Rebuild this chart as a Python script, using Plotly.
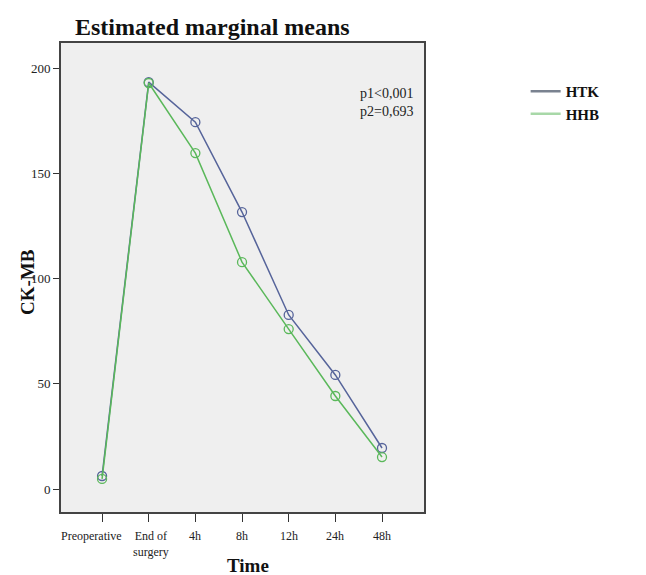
import plotly.graph_objects as go

categories = ["Preoperative", "End of<br>surgery", "4h", "8h", "12h", "24h", "48h"]
htk = [6.2, 193.3, 174.3, 131.6, 82.7, 54.2, 19.5]
hhb = [4.8, 192.9, 159.6, 107.8, 76.0, 44.2, 15.2]
y_ticks = [0, 50, 100, 150, 200]

HTK_C = "#56649a"
HHB_C = "#5ab85a"
SERIF = "Liberation Serif, Times New Roman, serif"

xs = list(range(len(categories)))
fig = go.Figure()
fig.add_trace(go.Scatter(x=xs, y=htk, mode="lines+markers", showlegend=False,
                         line=dict(color=HTK_C, width=1.5),
                         marker=dict(symbol="circle-open", size=9, color=HTK_C, line=dict(width=1.3))))
fig.add_trace(go.Scatter(x=xs, y=hhb, mode="lines+markers", showlegend=False,
                         line=dict(color=HHB_C, width=1.5),
                         marker=dict(symbol="circle-open", size=9, color=HHB_C, line=dict(width=1.3))))
fig.add_trace(go.Scatter(x=[None], y=[None], mode="lines", name="<b>HTK</b>",
                         line=dict(color="#7a8290", width=2.5)))
fig.add_trace(go.Scatter(x=[None], y=[None], mode="lines", name="<b>HHB</b>",
                         line=dict(color="#a8d8a8", width=2.5)))

fig.update_layout(
    width=646, height=575,
    margin=dict(l=61, r=222, t=43, b=63),
    paper_bgcolor="white", plot_bgcolor="#efefef",
    font=dict(family=SERIF, color="#222", size=13),
    title=dict(text="<b>Estimated marginal means</b>", x=75/646, xanchor="left",
               y=1-27/575, yanchor="middle", font=dict(size=24, family=SERIF, color="#111")),
    legend=dict(x=1.28, xanchor="left", y=1-(75-43)/469, yanchor="top",
                font=dict(size=15, family=SERIF, color="#111"),
                itemwidth=30, tracegroupgap=0, bgcolor="rgba(0,0,0,0)"),
    xaxis=dict(range=[-0.88, 6.9], tickvals=xs, showticklabels=False,
               automargin=False,
               showgrid=False, zeroline=False, showline=True, mirror=True,
               linecolor="#444", linewidth=2, ticks="outside", ticklen=8,
               tickcolor="#333"),
    yaxis=dict(range=[-10.9, 211.9], tickvals=y_ticks, automargin=False,
               showgrid=False, zeroline=False, showline=True, mirror=True,
               linecolor="#444", linewidth=2, ticks="outside", ticklen=6,
               tickcolor="#333", tickfont=dict(size=13, family=SERIF, color="#222")),
)
# category labels below the axis (first one offset left as in the original)
label_shift = [-11, 2, 0, 0, 0, 0, 0]
for xi, lab, sh in zip(xs, categories, label_shift):
    fig.add_annotation(text=lab, xref="x", yref="paper", x=xi, y=-(527-512)/469,
                       xanchor="center", yanchor="top", xshift=sh, showarrow=False,
                       align="center", font=dict(size=12, family=SERIF, color="#222"))
fig.add_annotation(text="<b>Time</b>", xref="paper", yref="paper",
                   x=(248-61)/363, y=-(565-512)/469, xanchor="center", yanchor="middle",
                   showarrow=False, font=dict(size=19, family=SERIF, color="#111"))
fig.add_annotation(text="<b>CK-MB</b>", xref="paper", yref="paper", textangle=-90,
                   x=-(61-27)/363, y=1-(282-43)/469, xanchor="center", yanchor="middle",
                   showarrow=False, font=dict(size=19, family=SERIF, color="#111"))
fig.add_annotation(text="p1<0,001<br>p2=0,693", xref="paper", yref="paper",
                   x=(358-61)/363, y=1-(84-43)/469, xanchor="left", yanchor="top",
                   showarrow=False, align="left",
                   font=dict(size=14, family=SERIF, color="#222"))
fig.write_html("out.html")
